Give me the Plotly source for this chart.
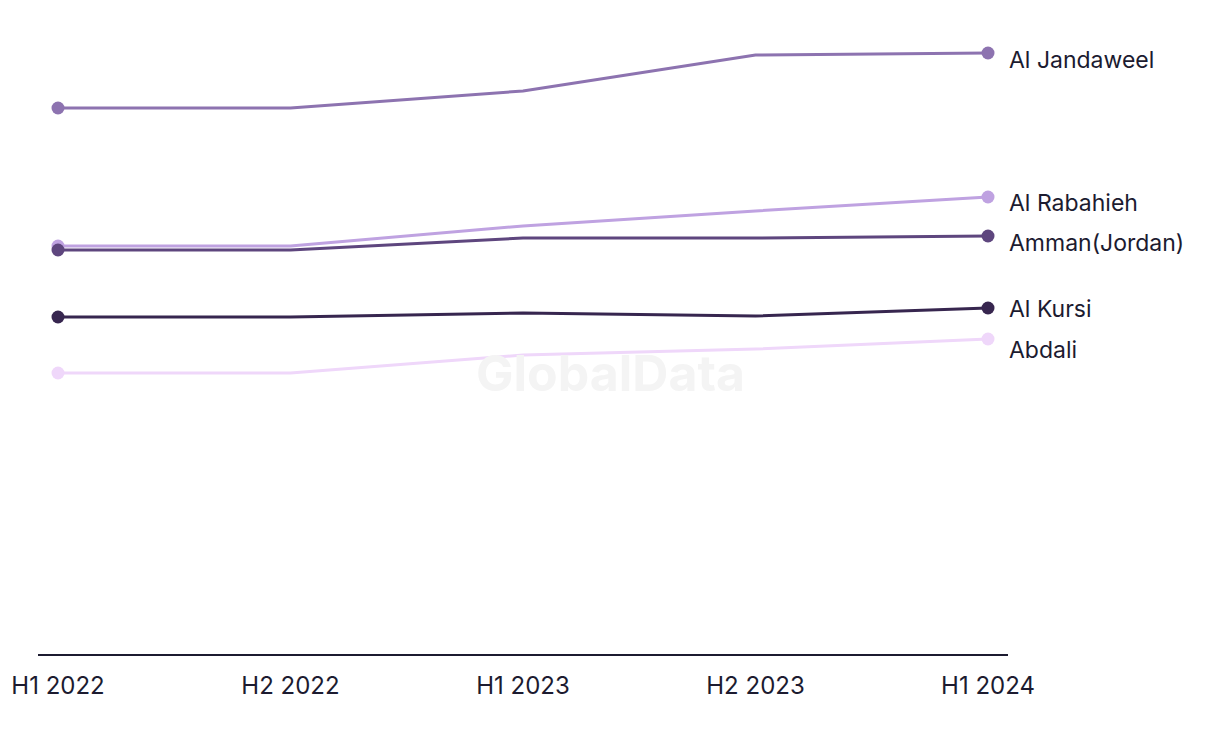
import plotly.graph_objects as go

periods = ["H1 2022", "H2 2022", "H1 2023", "H2 2023", "H1 2024"]

al_jandaweel = [546, 546, 563, 599, 601]
al_rabahieh = [408, 408, 428, 443, 457]
amman_jordan = [404, 404, 416, 416, 418]
al_kursi = [337, 337, 341, 338, 346]
abdali = [281, 281, 299, 305, 315]

series = [
    ("Al Jandaweel", al_jandaweel, "#8d73b0"),
    ("Abdali", abdali, "#efd7fa"),
    ("Al Kursi", al_kursi, "#37264f"),
    ("Al Rabahieh", al_rabahieh, "#bfa2e1"),
    ("Amman(Jordan)", amman_jordan, "#5e467e"),
]

# vertical nudge of the end labels (pixels)
label_shift = {"Al Jandaweel": -7, "Al Rabahieh": -6, "Amman(Jordan)": -7,
               "Al Kursi": -1, "Abdali": -11}

text_color = "#1c1b30"
font_family = "Inter, Roboto, sans-serif"

fig = go.Figure()
for name, vals, col in series:
    fig.add_trace(go.Scatter(
        x=periods, y=vals, name=name, mode="lines",
        line=dict(color=col, width=3),
        hoverinfo="x+y+name",
    ))
    # dots only on the first and last point
    fig.add_trace(go.Scatter(
        x=[periods[0], periods[-1]], y=[vals[0], vals[-1]], mode="markers",
        marker=dict(color=col, size=13, line=dict(width=0)),
        hoverinfo="skip",
    ))
    fig.add_annotation(
        x=periods[-1], y=vals[-1], text=name, showarrow=False,
        xanchor="left", yanchor="middle", xshift=19,
        yshift=label_shift[name],
        font=dict(size=23, color=text_color, family=font_family),
    )

# watermark
fig.add_annotation(
    x=0.59, y=0.443, xref="paper", yref="paper", text="<b>GlobalData</b>",
    showarrow=False, font=dict(size=50, color="#f4f4f4", family=font_family),
)

fig.update_layout(
    width=1212, height=736,
    plot_bgcolor="white", paper_bgcolor="white",
    showlegend=False,
    margin=dict(l=30, r=212, t=12, b=90, autoexpand=False),
    font=dict(family=font_family, color=text_color),
    xaxis=dict(
        type="category", range=[-0.086, 4.086], automargin=False,
        showgrid=False, zeroline=False,
        showline=True, linecolor=text_color, linewidth=2,
        ticks="", ticklabelstandoff=9,
        tickfont=dict(size=24, color=text_color),
    ),
    yaxis=dict(
        range=[0, 634], showgrid=False, zeroline=False, automargin=False,
        showticklabels=False, showline=False,
    ),
)

fig.write_html("out.html")
